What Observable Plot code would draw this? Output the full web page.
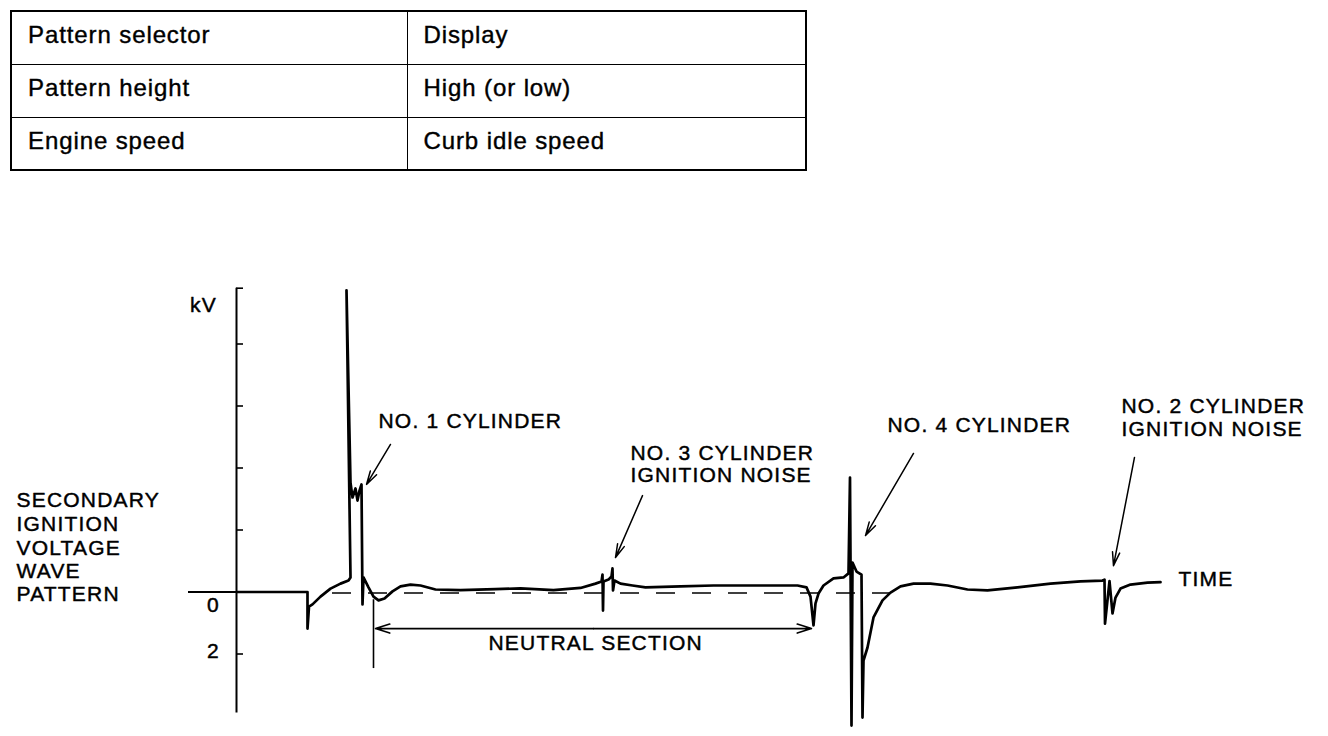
<!DOCTYPE html>
<html>
<head>
<meta charset="utf-8">
<script src="https://cdn.jsdelivr.net/npm/d3@7"></script>
<script src="https://cdn.jsdelivr.net/npm/@observablehq/plot@0.6"></script>
<style>
  html, body { margin: 0; padding: 0; background: #fff; }
  body { width: 1328px; height: 736px; overflow: hidden; position: relative;
         font-family: "Liberation Sans", Arial, Helvetica, sans-serif; color: #000; }
  table.settings { position: absolute; left: 10px; top: 10px; width: 797px;
         border-collapse: collapse; table-layout: fixed; border: 2.5px solid #000; }
  table.settings td { border: 1.5px solid #000; height: 53px; box-sizing: border-box;
         padding: 0 0 5px 16px; font-size: 24px; letter-spacing: 0.9px;
         vertical-align: middle; white-space: nowrap;
         -webkit-text-stroke: 0.4px #000; }
  table.settings td.c1 { width: 396px; }
  #chart { position: absolute; left: 0; top: 180px; }
  #chart svg text { letter-spacing: 1.2px; }
</style>
</head>
<body>
<table class="settings" id="settings"></table>
<div id="chart"></div>
<script>
// ---- Data ----
const settingNames  = ["Pattern selector", "Pattern height", "Engine speed"];
const settingValues = ["Display", "High (or low)", "Curb idle speed"];

// Secondary ignition voltage trace: time (arbitrary ms units) and kV
const timeMs = [0, 7.1, 7.1, 7.25, 7.6, 8.4, 9.4, 10.4, 11.2, 11.4, 11.0, 11.4, 11.6, 11.9, 12.1, 12.3, 12.5,
  12.6, 12.7, 13.2, 13.7, 14.2, 14.8, 15.6, 16.4, 17.4, 18.4, 19.9, 22.4, 25.9, 28.4, 31.7, 34.4, 35.9, 36.5,
  36.6, 36.65, 36.7, 37.2, 37.5, 37.6, 37.65, 37.8, 38.4, 39.6, 40.9, 44.4, 47.7, 51.4, 56.1, 57.0, 57.4,
  57.7, 57.9, 58.2, 58.7, 59.7, 60.7, 61.2, 61.35, 61.5, 61.6, 62.0, 62.5, 62.6, 62.7, 63.1, 63.7, 64.6,
  65.4, 66.4, 67.7, 69.4, 71.1, 73.1, 75.1, 78.1, 81.4, 84.4, 86.6, 86.8, 86.85, 87.3, 87.6, 87.9, 88.4,
  89.4, 91.1, 92.4];
const voltKv = [0, 0, -1.18, -0.47, -0.40, -0.15, 0.11, 0.27, 0.37, 0.47, 9.73, 3.53, 3.05, 3.34, 2.95, 3.27, 3.47,
  -0.40, 0.47, 0.15, -0.15, -0.27, -0.21, 0.02, 0.18, 0.24, 0.21, 0.08, 0.06, 0.09, 0.12, 0.06, 0.13, 0.27, 0.34,
  0.56, -0.60, 0.34, 0.40, 0.50, 0.76, 0.05, 0.37, 0.27, 0.21, 0.15, 0.18, 0.21, 0.21, 0.21, 0.15, -0.15,
  -1.08, -0.37, -0.05, 0.21, 0.44, 0.47, 0.60, 3.69, -4.31, 0.95, 0.66, 0.56, -4.05, -2.21, -1.79, -0.82, -0.27,
  -0.02, 0.18, 0.27, 0.27, 0.21, 0.08, 0.05, 0.15, 0.27, 0.34, 0.37, 0.40, -1.02, 0.35, -0.69, -0.18, 0.11,
  0.24, 0.30, 0.32];

const kvTicks = [8, 6, 4, 2, -2];
const kvTickLabels = ["0", "2"];
const kvLabelValues = [0, -2];
const sideTitle = ["SECONDARY", "IGNITION", "VOLTAGE", "WAVE", "PATTERN"];
const calloutTexts = ["NO. 1 CYLINDER", "NO. 3 CYLINDER", "IGNITION NOISE", "NO. 4 CYLINDER",
  "NO. 2 CYLINDER", "IGNITION NOISE"];

// ---- Settings table ----
const tbl = document.getElementById("settings");
settingNames.forEach((n, i) => {
  const tr = document.createElement("tr");
  const a = document.createElement("td"); a.className = "c1"; a.textContent = n;
  const b = document.createElement("td"); b.textContent = settingValues[i];
  tr.append(a, b); tbl.append(tr);
});

// ---- Chart ----
const wave = timeMs.map((t, i) => ({t, v: voltKv[i]}));

// annotation placement (layout, in chart coordinates)
const calloutPos = [[14.2, 5.5], [39.4, 4.47], [39.4, 3.76], [65.1, 5.37], [88.5, 5.98], [88.5, 5.24]];
const callouts = calloutTexts.map((s, i) => ({s, t: calloutPos[i][0], v: calloutPos[i][1]}));
const sideRows = sideTitle.map((s, i) => ({s, v: [2.95, 2.18, 1.40, 0.66, -0.08][i]}));
const pointers = [
  {x1: 15.4, y1: 4.76, x2: 13.0, y2: 3.47},
  {x1: 40.6, y1: 3.11, x2: 37.9, y2: 1.11},
  {x1: 67.7, y1: 4.47, x2: 62.9, y2: 1.82},
  {x1: 89.8, y1: 4.34, x2: 87.7, y2: 0.85}
];
const neutral = [
  {x1: 35.7, y1: -1.18, x2: 13.9, y2: -1.18},
  {x1: 35.7, y1: -1.18, x2: 57.5, y2: -1.18}
];
const labelDy = [13.5, -3];
const textInk = {fill: "#000", stroke: "#000", strokeWidth: 0.45, fontSize: 21};

const chart = Plot.plot({
  width: 1328,
  height: 556,
  marginLeft: 236,
  marginRight: 92,
  marginTop: 101.5,
  marginBottom: 5,
  x: {domain: [0, 100], axis: null},
  y: {domain: [-4.5, 10], axis: null},
  style: {fontFamily: "'Liberation Sans', Arial, Helvetica, sans-serif", fontSize: "21px",
          background: "transparent", overflow: "visible", color: "#000"},
  marks: [
    // dashed zero reference
    Plot.ruleY([0], {x1: 9.6, x2: 65.5, stroke: "#000", strokeWidth: 1.3, strokeDasharray: "19,17", dy: 1}),
    // vertical kV axis
    Plot.ruleX([0], {y1: -3.9, y2: 9.8, stroke: "#000", strokeWidth: 2}),
    Plot.ruleY([...kvTicks, 9.8], {x1: 0, x2: 0.7, stroke: "#000", strokeWidth: 1.6}),
    Plot.ruleY([0], {x1: -4.8, x2: 0, stroke: "#000", strokeWidth: 2}),
    Plot.text(kvTickLabels.slice(0, 1), {x: -2.3, y: kvLabelValues[0], text: d => d, dy: labelDy[0], ...textInk}),
    Plot.text(kvTickLabels.slice(1), {x: -2.3, y: kvLabelValues[1], text: d => d, dy: labelDy[1], ...textInk}),
    Plot.text(["kV"], {x: -3.3, y: 9.24, text: d => d, ...textInk}),
    // waveform
    Plot.line(wave, {x: "t", y: "v", stroke: "#000", strokeWidth: 2.7, strokeLinejoin: "round", strokeLinecap: "round"}),
    // neutral section
    Plot.ruleX([13.7], {y1: -0.25, y2: -2.47, stroke: "#000", strokeWidth: 1.6}),
    Plot.arrow(neutral, {x1: "x1", y1: "y1", x2: "x2", y2: "y2", stroke: "#000", strokeWidth: 1.6, headLength: 14, headAngle: 35}),
    Plot.text(["NEUTRAL SECTION"], {x: 25.2, y: -1.66, text: d => d, textAnchor: "start", ...textInk}),
    // callouts
    Plot.arrow(pointers, {x1: "x1", y1: "y1", x2: "x2", y2: "y2", stroke: "#000", strokeWidth: 1.5, headLength: 14, headAngle: 30}),
    Plot.text(callouts, {x: "t", y: "v", text: "s", textAnchor: "start", ...textInk}),
    Plot.text(["TIME"], {x: 94.2, y: 0.4, text: d => d, textAnchor: "start", ...textInk}),
    Plot.text(sideRows, {x: -22.0, y: "v", text: "s", textAnchor: "start", ...textInk})
  ]
});
document.getElementById("chart").append(chart);
</script>
</body>
</html>
